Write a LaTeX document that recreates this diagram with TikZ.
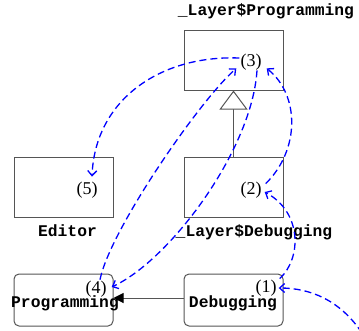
\documentclass[tikz,border=0pt]{standalone}
\usepackage{fontspec}
\setmainfont{Liberation Serif}
\setmonofont{Liberation Mono}
\usetikzlibrary{arrows.meta,calc}
\definecolor{boxgray}{HTML}{555555}
\begin{document}
\begin{tikzpicture}[x=1pt,y=-1pt,
  classbox/.style={draw=boxgray, line width=1pt, minimum width=99pt, minimum height=60pt, inner sep=0pt},
  objbox/.style={classbox, rounded corners=5pt, minimum height=52pt},
  seqno/.style={font=\fontsize{18}{18}\selectfont, inner sep=1pt},
  code/.style={font=\ttfamily\bfseries\fontsize{16.3}{16}\selectfont, inner sep=0pt, anchor=base},
  msg/.style={draw=blue, line width=1.3pt, dash pattern=on 7pt off 4pt,
    -{Straight Barb[length=5pt,width=9pt]}},
  rel/.style={draw=boxgray, line width=1pt}]
\useasboundingbox (0,0) rectangle (359,330);

% classes and objects
\node[classbox] (layP) at (233.5,60) {};
\node[classbox] (layD) at (233.5,187) {};
\node[classbox] (editor) at (63.5,187) {};
\node[objbox] (prog) at (63.5,300) {};
\node[objbox] (debug) at (233.5,300) {};

% names
\node[code] (layPname) at (266,15) {\_Layer\$Programming};
\node[code] (layDname) at (254,236) {\_Layer\$Debugging};
\node[code] (editorname) at (67.5,236) {Editor};
\node[code] (progname) at (65,307) {Programming};
\node[code] (debugname) at (233,307) {Debugging};

% generalization and association
\draw[rel, -{Triangle[open, length=19pt, width=28pt, fill=white]}] (layD.north) -- (layP.south);
\draw[rel, -{Triangle[length=10pt, width=10pt, color=black, fill=black]}]
  ([yshift=2pt]debug.west) -- ([yshift=2pt]prog.east);

% sequence numbers
\node[seqno] (n1) at (266,288) {(1)};
\node[seqno] (n2) at (251,190) {(2)};
\node[seqno] (n3) at (251,62) {(3)};
\node[seqno] (n4) at (96,289) {(4)};
\node[seqno] (n5) at (87,190) {(5)};

% message flow
\coordinate (src) at (362,333);
\draw[msg] (src) .. controls (340,300) and (310,288) .. ([xshift=1pt]n1.east);
\draw[msg] ([xshift=2pt]n1.north east) .. controls (302,258) and (302,212) .. ([xshift=2pt,yshift=-2pt]n2.east);
\draw[msg] ([xshift=3pt,yshift=-3pt]n2.north east) .. controls (300,150) and (300,95) .. ([xshift=4pt,yshift=3pt]n3.south east);
\draw[msg] ([xshift=6pt,yshift=1pt]n3.south) .. controls (252,150) and (170,260) .. ([xshift=4pt,yshift=2pt]n4.east);
\draw[msg] ([xshift=4pt]n4.north) .. controls (110,230) and (200,100) .. ([xshift=-3pt,yshift=3pt]n3.south west);
\draw[msg] ([yshift=4pt]n3.west) .. controls (160,55) and (95,100) .. ([xshift=5pt,yshift=4pt]n5.north);
\end{tikzpicture}
\end{document}
